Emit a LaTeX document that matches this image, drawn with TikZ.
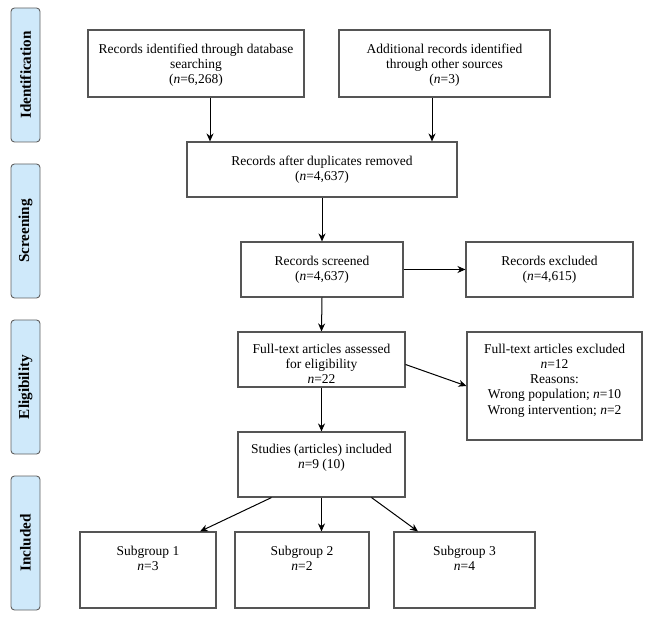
\documentclass[tikz,border=0pt]{standalone}
\usepackage{fontspec}
\setmainfont{Liberation Serif}
\usetikzlibrary{arrows.meta}
\definecolor{boxline}{HTML}{555555}
\definecolor{phasefill}{HTML}{CFE9FA}
\definecolor{phaseline}{HTML}{606060}
\newcommand{\bxt}[4]{\begin{minipage}[c][#2pt][t]{#1pt}\vspace*{#3pt}\centering #4\par\end{minipage}}
\tikzset{
  box/.style={draw=boxline, line width=1.1pt, inner sep=0pt, font=\fontsize{13.5}{15.2}\selectfont},
  phase/.style={draw=phaseline, fill=phasefill, line width=0.9pt, rounded corners=3.5pt,
    minimum width=134pt, minimum height=29pt, inner sep=0pt, rotate=90,
    font=\fontsize{15.2}{17}\selectfont\bfseries},
  arr/.style={-{Stealth[length=8pt,width=7pt]}, line width=1pt, black}
}
\begin{document}
\begin{tikzpicture}[x=1pt,y=-1pt]
\useasboundingbox (0,0) rectangle (648,617);
% phase labels
\node[phase] (pid) at (25.5,75) {Identification};
\node[phase] (psc) at (25.5,231) {Screening};
\node[phase] (pel) at (25.5,387) {Eligibility};
\node[phase] (pin) at (25.5,543) {Included};
% boxes
\node[box] (b1) at (196,63.5) {\bxt{216}{67}{14}{Records identified through database\\searching\\(\textit{n}=6,268)}};
\node[box] (b2) at (444.5,63.5) {\bxt{211}{67}{14}{Additional records identified\\through other sources\\(\textit{n}=3)}};
\node[box] (b3) at (322,169.5) {\bxt{270}{55}{13.5}{Records after duplicates removed\\(\textit{n}=4,637)}};
\node[box] (b4) at (322,269.5) {\bxt{162}{55}{14}{Records screened\\(\textit{n}=4,637)}};
\node[box] (ex1) at (549.5,269.5) {\bxt{167}{55}{14}{Records excluded\\(\textit{n}=4,615)}};
\node[box] (b5) at (321.5,359.5) {\bxt{167}{55}{12}{Full-text articles assessed\\for eligibility\\\textit{n}=22}};
\node[box] (ex2) at (554.5,386) {\bxt{175}{108}{12}{Full-text articles excluded\\\textit{n}=12\\Reasons:\\Wrong population; \textit{n}=10\\Wrong intervention; \textit{n}=2}};
\node[box] (st) at (321.5,464.5) {\bxt{167}{65}{12}{Studies (articles) included\\\textit{n}=9 (10)}};
\node[box] (s1) at (148,570) {\bxt{136}{76}{14}{Subgroup 1\\\textit{n}=3}};
\node[box] (s2) at (302,570) {\bxt{134}{76}{14}{Subgroup 2\\\textit{n}=2}};
\node[box] (s3) at (464.5,570) {\bxt{141}{76}{14}{Subgroup 3\\\textit{n}=4}};
% connectors
\draw[arr] ([xshift=14pt]b1.south) -- ([xshift=14pt]b1.south |- b3.north);
\draw[arr] ([xshift=-12.5pt]b2.south) -- ([xshift=-12.5pt]b2.south |- b3.north);
\draw[arr] (b3.south) -- (b4.north);
\draw[arr] (b4.east) -- (ex1.west);
\draw[arr] (b4.south) -- (b5.north);
\draw[arr] ([yshift=-5pt]b5.east) -- (ex2.west);
\draw[arr] (b5.south) -- (st.north);
\draw[arr] ([xshift=-50pt]st.south) -- ([xshift=52pt]s1.north);
\draw[arr] (st.south) -- (st.south |- s2.north);
\draw[arr] ([xshift=50pt]st.south) -- ([xshift=-46.5pt]s3.north);
\end{tikzpicture}
\end{document}
